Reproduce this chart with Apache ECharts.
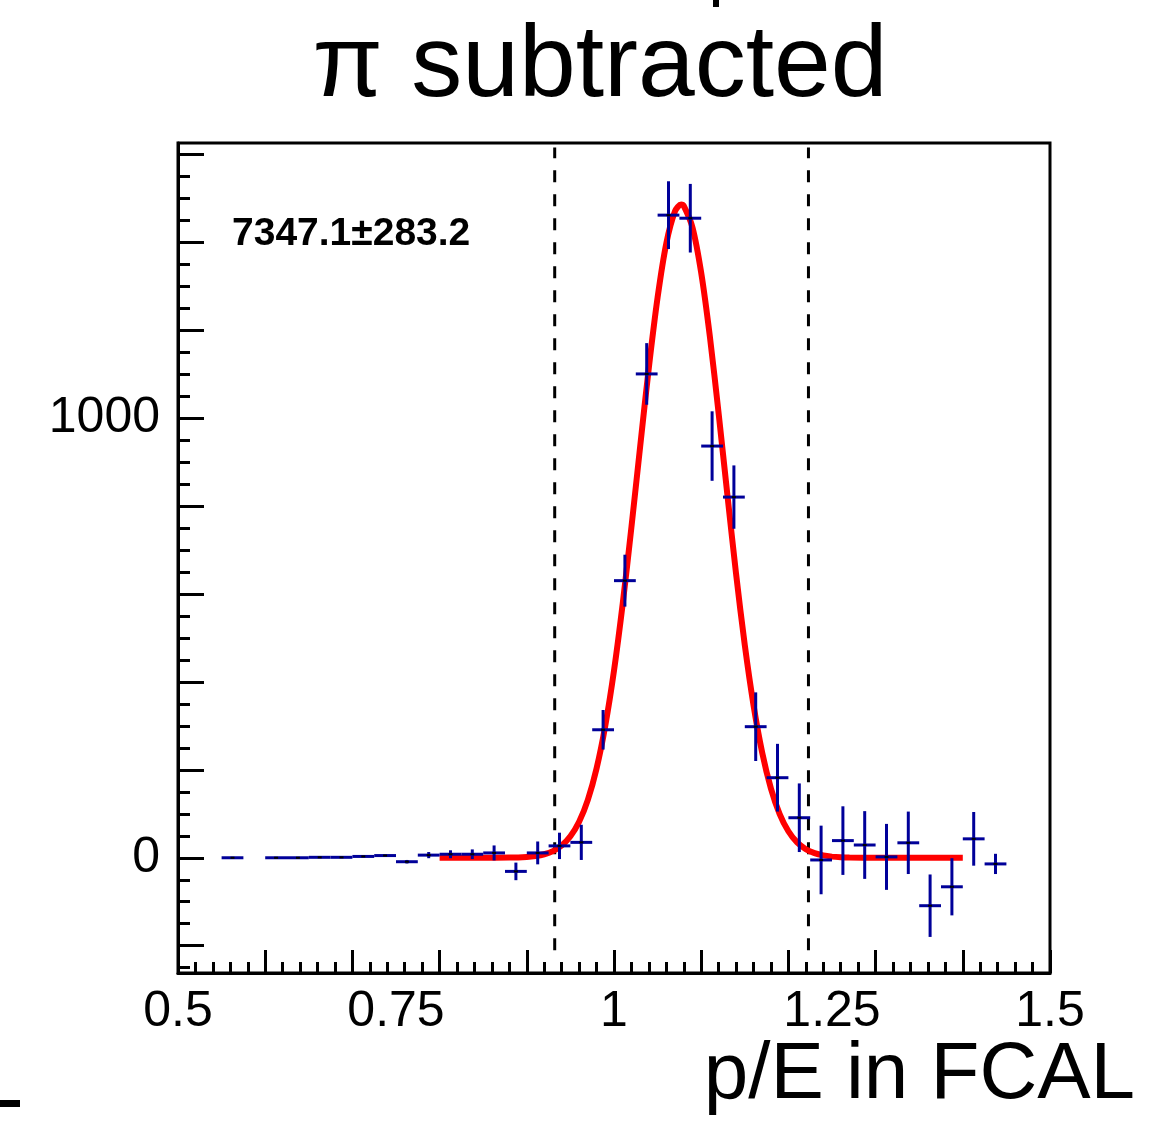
<!DOCTYPE html>
<html>
<head>
<meta charset="utf-8">
<title>pi subtracted</title>
<script src="https://cdn.jsdelivr.net/npm/echarts@6/dist/echarts.min.js"></script>
<style>
  html, body { margin: 0; padding: 0; background: #fff; }
  #chart { width: 1160px; height: 1125px; }
</style>
</head>
<body>
<div id="chart"></div>
<script>
// histogram bins (centres), contents and errors
const binWidth = 0.025;
const binCenters = [0.5625, 0.6125, 0.6375, 0.6625, 0.6875, 0.7125, 0.7375, 0.7625, 0.7875,
  0.8125, 0.8375, 0.8625, 0.8875, 0.9125, 0.9375, 0.9625, 0.9875, 1.0125, 1.0375, 1.0625,
  1.0875, 1.1125, 1.1375, 1.1625, 1.1875, 1.2125, 1.2375, 1.2625, 1.2875, 1.3125, 1.3375,
  1.3625, 1.3875, 1.4125, 1.4375];
const binValues = [0, 0, 0, 1, 1, 3, 5, -9, 6,
  8, 8, 11, -31, 11, 27, 35, 291, 630, 1100, 1461,
  1454, 936, 820, 298, 182, 91, -5, 39, 29, 2, 34,
  -109, -66, 43, -14];
const binErrors = [0, 0, 0, 0, 0, 1, 2, 4, 7,
  9, 11, 17, 20, 26, 30, 40, 45, 59, 70, 77,
  78, 79, 72, 78, 77, 78, 78, 78, 77, 75, 71,
  71, 65, 61, 23];

// gaussian fit curve
const fitX = [0.80, 0.84, 0.88, 0.90, 0.91, 0.92, 0.93, 0.94, 0.95, 0.96, 0.97, 0.98, 0.99,
  1.00, 1.01, 1.02, 1.03, 1.04, 1.05, 1.06, 1.07, 1.077, 1.08, 1.09, 1.10, 1.11, 1.12,
  1.13, 1.14, 1.15, 1.16, 1.17, 1.18, 1.19, 1.20, 1.21, 1.22, 1.23, 1.24, 1.25, 1.26,
  1.27, 1.30, 1.35, 1.40];
const fitY = [0, 0, 0.4, 1.9, 4.0, 8.0, 15.2, 27.7, 48.7, 81.7, 131.6, 203.0, 300.2,
  425.4, 577.7, 752.0, 935.0, 1115.0, 1274.0, 1397.0, 1470.0, 1485.0, 1482.0, 1433.0, 1330.0, 1184.0, 1010.0,
  825.6, 645.2, 483.2, 346.8, 238.7, 157.3, 99.4, 60.2, 34.9, 19.4, 10.4, 5.3, 2.6, 1.2,
  0.5, 0, 0, 0];

// cut lines
const cutLow = 0.932;
const cutHigh = 1.223;
const cutYRange = [-210, 1615];

// axes
const xLabelValues = [0.5, 0.75, 1, 1.25, 1.5];
const yLabelValues = [0, 1000];
const yMajorTicks = [-200, 0, 200, 400, 600, 800, 1000, 1200, 1400, 1600];
const yMinorTicks = [-250, -150, -100, -50, 50, 100, 150, 250, 300, 350, 450, 500, 550,
  650, 700, 750, 850, 900, 950, 1050, 1100, 1150, 1250, 1300, 1350, 1450, 1500, 1550];

const titleText = 'π subtracted';
const statText = '7347.1±283.2';
const xTitle = 'p/E in FCAL';

const font = '"Liberation Sans", Arial, Helvetica, sans-serif';
const histColor = '#000099';

const chart = echarts.init(document.getElementById('chart'));

const histData = binCenters.map((c, i) => [c, binValues[i], binErrors[i]]);
const fitData = fitX.map((x, i) => [x, fitY[i]]);

function renderBin(params, api) {
  const x = api.value(0), y = api.value(1), e = api.value(2);
  const left = api.coord([x - binWidth / 2, y]);
  const right = api.coord([x + binWidth / 2, y]);
  const mid = api.coord([x, y]);
  const children = [{
    type: 'line',
    shape: { x1: left[0], y1: left[1], x2: right[0], y2: right[1] },
    style: { stroke: histColor, lineWidth: 3 }
  }];
  if (e > 0) {
    const top = api.coord([x, y + e]);
    const bot = api.coord([x, y - e]);
    children.push({
      type: 'line',
      shape: { x1: top[0], y1: top[1], x2: bot[0], y2: bot[1] },
      style: { stroke: histColor, lineWidth: 3 }
    });
  }
  children.push({
    type: 'rect',
    shape: { x: mid[0] - 2, y: mid[1] - 1, width: 4, height: 2 },
    style: { fill: '#000' }
  });
  return { type: 'group', children: children };
}

const cutLine = (xv) => ({
  type: 'line',
  data: [[xv, cutYRange[0]], [xv, cutYRange[1]]],
  symbol: 'none',
  silent: true,
  z: 2,
  lineStyle: { color: '#000', width: 3, type: [12, 12] }
});

const option = {
  animation: false,
  backgroundColor: '#fff',
  grid: {
    left: 178, top: 143, width: 872, height: 830,
    show: true, borderColor: '#000', borderWidth: 3, backgroundColor: 'transparent'
  },
  xAxis: {
    type: 'value', min: 0.5, max: 1.5, interval: 0.1,
    axisLine: { show: true, onZero: false, lineStyle: { color: '#000', width: 3 } },
    axisTick: { show: true, inside: true, length: 23, lineStyle: { color: '#000', width: 3 } },
    minorTick: { show: true, splitNumber: 5, length: 11, lineStyle: { color: '#000', width: 3 } },
    axisLabel: {
      customValues: xLabelValues, fontSize: 50, color: '#000', margin: 14, fontFamily: font,
      formatter: (v) => String(v)
    },
    splitLine: { show: false },
    minorSplitLine: { show: false }
  },
  yAxis: [{
    type: 'value', min: -262, max: 1625, position: 'left',
    axisLine: { show: true, onZero: false, lineStyle: { color: '#000', width: 3 } },
    axisTick: { show: true, inside: true, length: 26, customValues: yMajorTicks,
      lineStyle: { color: '#000', width: 3 } },
    axisLabel: { customValues: yLabelValues, fontSize: 50, color: '#000', margin: 18, fontFamily: font,
      formatter: (v) => String(v) },
    splitLine: { show: false }
  }, {
    type: 'value', min: -262, max: 1625, position: 'left', offset: 0,
    axisLine: { show: false, onZero: false },
    axisTick: { show: true, inside: true, length: 12, customValues: yMinorTicks,
      lineStyle: { color: '#000', width: 3 } },
    axisLabel: { show: false },
    splitLine: { show: false }
  }],
  graphic: [
    { type: 'text', x: 600, y: 17,
      style: { text: titleText, font: '102px ' + font, fill: '#000', textAlign: 'center', textVerticalAlign: 'top' } },
    { type: 'text', left: 232, top: 215,
      style: { text: statText, font: 'bold 39px ' + font, fill: '#000' } },
    { type: 'text', right: 25, top: 1036,
      style: { text: xTitle, font: '80px ' + font, fill: '#000' } },
    { type: 'rect', shape: { x: 713, y: 0, width: 6, height: 7 }, style: { fill: '#000' } },
    { type: 'rect', shape: { x: 0, y: 1100, width: 20, height: 7 }, style: { fill: '#000' } }
  ],
  series: [
    cutLine(cutLow),
    cutLine(cutHigh),
    {
      type: 'line',
      data: fitData,
      symbol: 'none',
      smooth: 0.3,
      z: 3,
      lineStyle: { color: '#ff0000', width: 6 }
    },
    {
      type: 'custom',
      data: histData,
      renderItem: renderBin,
      z: 4
    }
  ]
};

chart.setOption(option);
</script>
</body>
</html>
